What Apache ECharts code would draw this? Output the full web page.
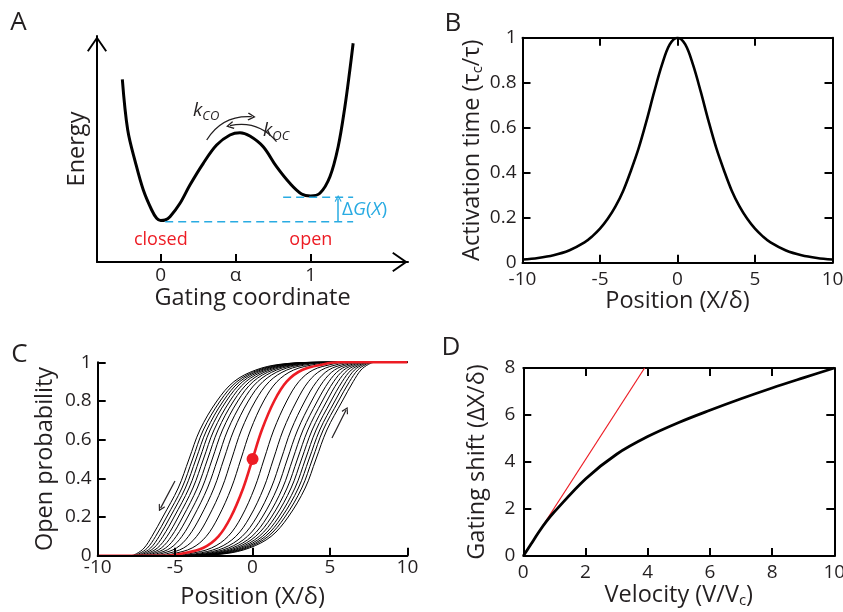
<!DOCTYPE html>
<html><head><meta charset="utf-8">
<script src="https://cdn.jsdelivr.net/npm/echarts@6/dist/echarts.min.js"></script>
<style>html,body{margin:0;padding:0;background:#fff}#c{width:843px;height:612px}</style>
</head><body><div id="c"></div>
<script>
// ---------- Panel A : double-well energy landscape ----------
const aGatingX = [-0.256,-0.22,-0.167,-0.116,-0.06,-0.027,0,0.029,0.062,0.129,0.195,0.284,0.373,0.462,0.529,0.595,0.684,0.773,0.862,0.94,1.0,1.062,1.129,1.184,1.229,1.262,1.284];
const aEnergy  = [182.7,132,98.7,72,52,43.7,41.5,42,45.3,58.7,77,98.7,117,127,129.3,126,115.3,95.3,78.7,68,66,68.7,85.3,115.3,155.3,192,218.7];
const aTickValues = [0, 0.5, 1];
const aTickLabels = ['0', 'α', '1'];
const aClosedLevelX = [0.03, 1.284];
const aClosedLevelE = [40.3, 40.3];
const aOpenLevelX = [0.817, 1.284];
const aOpenLevelE = [64.7, 64.7];
const aDeltaGArrow = [[1.184, 40.3], [1.184, 63.5]];
const aKcoArc = [[0.307, 122], [0.607, 145.3]];
const aKocArc = [[0.773, 120.3], [0.462, 136.3]];

// ---------- Panel B : activation time ----------
const bPosition   = [-10,-9,-8,-7,-6,-5.5,-5,-4.5,-4,-3.5,-3,-2.5,-2,-1.5,-1,-0.5,0,0.5,1,1.5,2,2.5,3,3.5,4,4.5,5,5.5,6,7,8,9,10];
const bActivation = [0.014,0.021,0.033,0.054,0.09,0.117,0.151,0.195,0.25,0.32,0.41,0.51,0.63,0.76,0.88,0.97,1,0.97,0.88,0.76,0.63,0.51,0.41,0.32,0.25,0.195,0.151,0.117,0.09,0.054,0.033,0.021,0.014];

// ---------- Panel C : open probability curves ----------
const cLevels = [0, 0.01, 0.04, 0.1, 0.2, 0.35, 0.5, 0.65, 0.8, 0.9, 0.96, 0.99, 1];
const cRedX   = [-5.5,-4.6,-3.2,-2.2,-1.4,-0.6,0,0.6,1.4,2.2,3.2,4.6,5.5];
const cRightShifted = [
  [-5.26,-4.09,-2.65,-1.58,-0.72,0.13,0.75,1.37,2.21,2.99,3.90,5.13,5.94],
  [-5.07,-3.68,-2.21,-1.08,-0.18,0.72,1.35,1.98,2.85,3.61,4.45,5.55,6.29],
  [-4.91,-3.34,-1.85,-0.67,0.27,1.20,1.85,2.49,3.38,4.14,4.91,5.91,6.58],
  [-4.79,-3.06,-1.55,-0.33,0.63,1.60,2.25,2.91,3.82,4.56,5.29,6.19,6.82],
  [-4.68,-2.82,-1.30,-0.04,0.95,1.94,2.60,3.26,4.19,4.93,5.61,6.44,7.02],
  [-4.58,-2.62,-1.08,0.20,1.22,2.23,2.90,3.57,4.51,5.24,5.89,6.65,7.20],
  [-4.50,-2.44,-0.88,0.43,1.46,2.49,3.17,3.85,4.80,5.52,6.14,6.84,7.36],
  [-4.42,-2.26,-0.70,0.64,1.69,2.74,3.42,4.10,5.07,5.79,6.37,7.02,7.50],
  [-4.34,-2.11,-0.53,0.83,1.89,2.96,3.65,4.34,5.32,6.03,6.58,7.18,7.64],
  [-4.27,-1.96,-0.37,1.01,2.09,3.18,3.87,4.56,5.55,6.26,6.79,7.34,7.77],
  [-4.20,-1.80,-0.20,1.20,2.30,3.40,4.10,4.80,5.80,6.50,7.00,7.50,7.90]
];
const cLeftShifted = [
  [-5.94,-5.13,-3.90,-2.99,-2.21,-1.37,-0.75,-0.13,0.72,1.58,2.65,4.09,5.26],
  [-6.29,-5.55,-4.45,-3.61,-2.85,-1.98,-1.35,-0.72,0.18,1.08,2.21,3.68,5.07],
  [-6.58,-5.91,-4.91,-4.14,-3.38,-2.49,-1.85,-1.20,-0.27,0.67,1.85,3.34,4.91],
  [-6.82,-6.19,-5.29,-4.56,-3.82,-2.91,-2.25,-1.60,-0.63,0.33,1.55,3.06,4.79],
  [-7.02,-6.44,-5.61,-4.93,-4.19,-3.26,-2.60,-1.94,-0.95,0.04,1.30,2.82,4.68],
  [-7.20,-6.65,-5.89,-5.24,-4.51,-3.57,-2.90,-2.23,-1.22,-0.20,1.08,2.62,4.58],
  [-7.36,-6.84,-6.14,-5.52,-4.80,-3.85,-3.17,-2.49,-1.46,-0.43,0.88,2.44,4.50],
  [-7.50,-7.02,-6.37,-5.79,-5.07,-4.10,-3.42,-2.74,-1.69,-0.64,0.70,2.26,4.42],
  [-7.64,-7.18,-6.58,-6.03,-5.32,-4.34,-3.65,-2.96,-1.89,-0.83,0.53,2.11,4.34],
  [-7.77,-7.34,-6.79,-6.26,-5.55,-4.56,-3.87,-3.18,-2.09,-1.01,0.37,1.96,4.27],
  [-7.90,-7.50,-7.00,-6.50,-5.80,-4.80,-4.10,-3.40,-2.30,-1.20,0.20,1.80,4.20]
];
const cMidpoint = [0, 0.5];
const cArrowLeft  = [[-5.01, 0.386], [-5.94, 0.246]];
const cArrowRight = [[5.13, 0.609], [6.04, 0.753]];

// ---------- Panel D : gating shift vs velocity ----------
const dVelocity = [0,0.25,0.5,0.75,1,2,3,4,5,6,7,8,9,10];
const dShift    = [0,0.51,1.02,1.48,1.88,3.28,4.33,5.08,5.68,6.2,6.69,7.15,7.58,8.0];
const dTangentVelocity = [0, 3.9];
const dTangentShift    = [0, 8];

// ---------- styling ----------
const FONT = "'Open Sans', 'DejaVu Sans', sans-serif";
const INK = '#231f20';
const RED = '#ed1c24';
const BLUE = '#29abe2';
const SMOOTH = 0.35;
const CHEVRON = 'path://M10,0L20,14.5L18.4,15.6L10,3.4L1.6,15.6L0,14.5Z';
const CHEVRON_SMALL = 'path://M10,0L20,13L17.6,14.8L10,4.6L2.4,14.8L0,13Z';

function merge(a, b) {
  for (const k in b) {
    if (b[k] && typeof b[k] === 'object' && !Array.isArray(b[k]) && a[k] && typeof a[k] === 'object' && !Array.isArray(a[k])) merge(a[k], b[k]);
    else a[k] = b[k];
  }
  return a;
}
function axis(extra) {
  const base = {
    type: 'value',
    splitLine: {show: false},
    axisLine: {show: true, onZero: false, lineStyle: {color: '#000', width: 2}},
    axisTick: {show: true, inside: true, length: 8, lineStyle: {color: '#000', width: 2}},
    axisLabel: {show: true, color: INK, fontFamily: FONT, fontSize: 19},
    nameLocation: 'middle',
    nameTextStyle: {color: INK, fontFamily: FONT, fontSize: 23.5,
      rich: {sub: {fontSize: 15, fontFamily: FONT, color: INK, padding: [11, 0, 0, 0]}}}
  };
  return merge(base, extra);
}
const zip = (xs, ys) => xs.map((x, i) => [x, ys[i]]);
const sig = xs => [[-10, 0]].concat(xs.map((x, i) => [x, cLevels[i]]), [[10, 1]]);

const series = [];
// A
series.push({type: 'line', xAxisIndex: 0, yAxisIndex: 0, data: zip(aGatingX, aEnergy), smooth: SMOOTH, showSymbol: false, symbol: 'none', lineStyle: {color: '#000', width: 3}, z: 3});
series.push({type: 'line', xAxisIndex: 0, yAxisIndex: 0, data: zip(aClosedLevelX, aClosedLevelE), showSymbol: false, symbol: 'none', lineStyle: {color: BLUE, width: 1.5, type: [8, 5]}});
series.push({type: 'line', xAxisIndex: 0, yAxisIndex: 0, data: zip(aOpenLevelX, aOpenLevelE), showSymbol: false, symbol: 'none', lineStyle: {color: BLUE, width: 1.5, type: [8, 5]}});
series.push({type: 'lines', coordinateSystem: 'cartesian2d', xAxisIndex: 0, yAxisIndex: 0,
  symbol: ['none', CHEVRON_SMALL], symbolSize: [9, 7],
  lineStyle: {color: BLUE, width: 1.5, opacity: 1},
  data: [{coords: aDeltaGArrow}]});
series.push({type: 'lines', coordinateSystem: 'cartesian2d', xAxisIndex: 0, yAxisIndex: 0,
  symbol: ['none', CHEVRON_SMALL], symbolSize: [10, 8],
  lineStyle: {color: INK, width: 1.3, opacity: 1},
  data: [{coords: aKcoArc, lineStyle: {curveness: 0.3}}, {coords: aKocArc, lineStyle: {curveness: -0.3}}]});
// B
series.push({type: 'line', xAxisIndex: 1, yAxisIndex: 1, data: zip(bPosition, bActivation), smooth: SMOOTH, showSymbol: false, symbol: 'none', lineStyle: {color: '#000', width: 2.6}});
// C
cLeftShifted.concat(cRightShifted).forEach(xs => {
  series.push({type: 'line', xAxisIndex: 3, yAxisIndex: 3, data: sig(xs), smooth: SMOOTH, clip: false, showSymbol: false, symbol: 'none', lineStyle: {color: '#000', width: 1}, z: 2});
});
series.push({type: 'line', xAxisIndex: 3, yAxisIndex: 3, data: sig(cRedX), smooth: SMOOTH, clip: false, showSymbol: false, symbol: 'none', lineStyle: {color: RED, width: 2.6}, z: 4});
series.push({type: 'scatter', xAxisIndex: 3, yAxisIndex: 3, data: [cMidpoint], symbol: 'circle', symbolSize: 12, itemStyle: {color: RED, opacity: 1}, z: 5});
series.push({type: 'lines', coordinateSystem: 'cartesian2d', xAxisIndex: 3, yAxisIndex: 3,
  symbol: ['none', CHEVRON_SMALL], symbolSize: [8, 7],
  lineStyle: {color: INK, width: 1.2, opacity: 1},
  data: [{coords: cArrowLeft}, {coords: cArrowRight}]});
// D
series.push({type: 'line', xAxisIndex: 4, yAxisIndex: 4, data: zip(dTangentVelocity, dTangentShift), showSymbol: false, symbol: 'none', lineStyle: {color: RED, width: 1.2}, z: 2});
series.push({type: 'line', xAxisIndex: 4, yAxisIndex: 4, data: zip(dVelocity, dShift), smooth: SMOOTH, showSymbol: false, symbol: 'none', lineStyle: {color: '#000', width: 2.8}, z: 3});

const hidden = {axisLabel: {show: false}};

const option = {
  animation: false,
  backgroundColor: '#fff',
  grid: [
    {left: 97, top: 36, width: 311, height: 226, containLabel: false, outerBoundsMode: 'none'},
    {left: 522.5, top: 37.7, width: 310, height: 225, containLabel: false, outerBoundsMode: 'none'},
    {left: 97.7, top: 362.3, width: 309.7, height: 193.4, containLabel: false, outerBoundsMode: 'none'},
    {left: 523.3, top: 368, width: 311, height: 188, containLabel: false, outerBoundsMode: 'none'}
  ],
  xAxis: [
    axis({gridIndex: 0, min: -0.425, max: 1.65, name: 'Gating coordinate', nameGap: 24,
      axisLine: {symbol: ['none', CHEVRON], symbolSize: [20, 16], symbolOffset: [0, -8]},
      axisTick: {customValues: aTickValues},
      axisLabel: {customValues: aTickValues, margin: 4, formatter: v => aTickLabels[aTickValues.indexOf(v)] || ''}}),
    axis({gridIndex: 1, min: -10, max: 10, interval: 5, name: 'Position (X/δ)', nameGap: 23, axisLabel: {margin: 7}}),
    axis(merge({gridIndex: 1, position: 'top', min: -10, max: 10, interval: 5}, hidden)),
    axis({gridIndex: 2, min: -10, max: 10, interval: 5, name: 'Position (X/δ)', nameGap: 30, axisLabel: {margin: 2}, z: 10}),
    axis({gridIndex: 3, min: 0, max: 10, interval: 2, name: 'Velocity (V/V{sub|c})', nameGap: 26, axisLabel: {margin: 7}}),
    axis(merge({gridIndex: 3, position: 'top', min: 0, max: 10, interval: 2}, hidden))
  ],
  yAxis: [
    axis({gridIndex: 0, min: 0, max: 226, name: 'Energy', nameGap: 8,
      axisLine: {symbol: ['none', CHEVRON], symbolSize: [20, 16], symbolOffset: [0, -8]},
      axisTick: {show: false}, axisLabel: {show: false}}),
    axis({gridIndex: 1, min: 0, max: 1, interval: 0.2, name: 'Activation time (τ{sub|c}/τ)', nameGap: 37, axisLabel: {margin: 6}}),
    axis(merge({gridIndex: 1, position: 'right', min: 0, max: 1, interval: 0.2}, hidden)),
    axis({gridIndex: 2, min: 0, max: 1, interval: 0.2, name: 'Open probability', nameGap: 40, axisLabel: {margin: 6}, z: 10}),
    axis({gridIndex: 3, min: 0, max: 8, interval: 2, name: 'Gating shift (ΔX/δ)', nameGap: 34, axisLabel: {margin: 8}}),
    axis(merge({gridIndex: 3, position: 'right', min: 0, max: 8, interval: 2}, hidden))
  ],
  series: series,
  graphic: [
    {type: 'text', style: {x: 18.5, y: 23, text: 'A', fontFamily: FONT, fontSize: 26, fill: INK, align: 'center', verticalAlign: 'middle'}},
    {type: 'text', style: {x: 453, y: 24, text: 'B', fontFamily: FONT, fontSize: 26, fill: INK, align: 'center', verticalAlign: 'middle'}},
    {type: 'text', style: {x: 19.5, y: 355, text: 'C', fontFamily: FONT, fontSize: 26, fill: INK, align: 'center', verticalAlign: 'middle'}},
    {type: 'text', style: {x: 451, y: 348, text: 'D', fontFamily: FONT, fontSize: 26, fill: INK, align: 'center', verticalAlign: 'middle'}},
    {type: 'text', style: {x: 160.8, y: 240, text: 'closed', fontFamily: FONT, fontSize: 18, fill: RED, align: 'center', verticalAlign: 'middle'}},
    {type: 'text', style: {x: 310.8, y: 240, text: 'open', fontFamily: FONT, fontSize: 18, fill: RED, align: 'center', verticalAlign: 'middle'}},
    {type: 'text', style: {x: 342, y: 210, text: '{n|Δ}{i|G}{n|(}{i|X}{n|)}', align: 'left', verticalAlign: 'middle',
      rich: {n: {fontFamily: FONT, fontSize: 19, fill: BLUE, color: BLUE}, i: {fontFamily: FONT, fontSize: 19, fontStyle: 'italic', fill: BLUE, color: BLUE}}}},
    {type: 'text', style: {x: 193, y: 111, text: '{k|k}{s|CO}', align: 'left', verticalAlign: 'middle',
      rich: {k: {fontFamily: FONT, fontSize: 19, fontStyle: 'italic', fill: INK, color: INK}, s: {fontFamily: FONT, fontSize: 13, fontStyle: 'italic', fill: INK, color: INK, padding: [11, 0, 0, 0]}}}},
    {type: 'text', style: {x: 263, y: 131, text: '{k|k}{s|OC}', align: 'left', verticalAlign: 'middle',
      rich: {k: {fontFamily: FONT, fontSize: 19, fontStyle: 'italic', fill: INK, color: INK}, s: {fontFamily: FONT, fontSize: 13, fontStyle: 'italic', fill: INK, color: INK, padding: [11, 0, 0, 0]}}}}
  ]
};
const chart = echarts.init(document.getElementById('c'), null, {renderer: 'canvas'});
chart.setOption(option);
</script></body></html>
